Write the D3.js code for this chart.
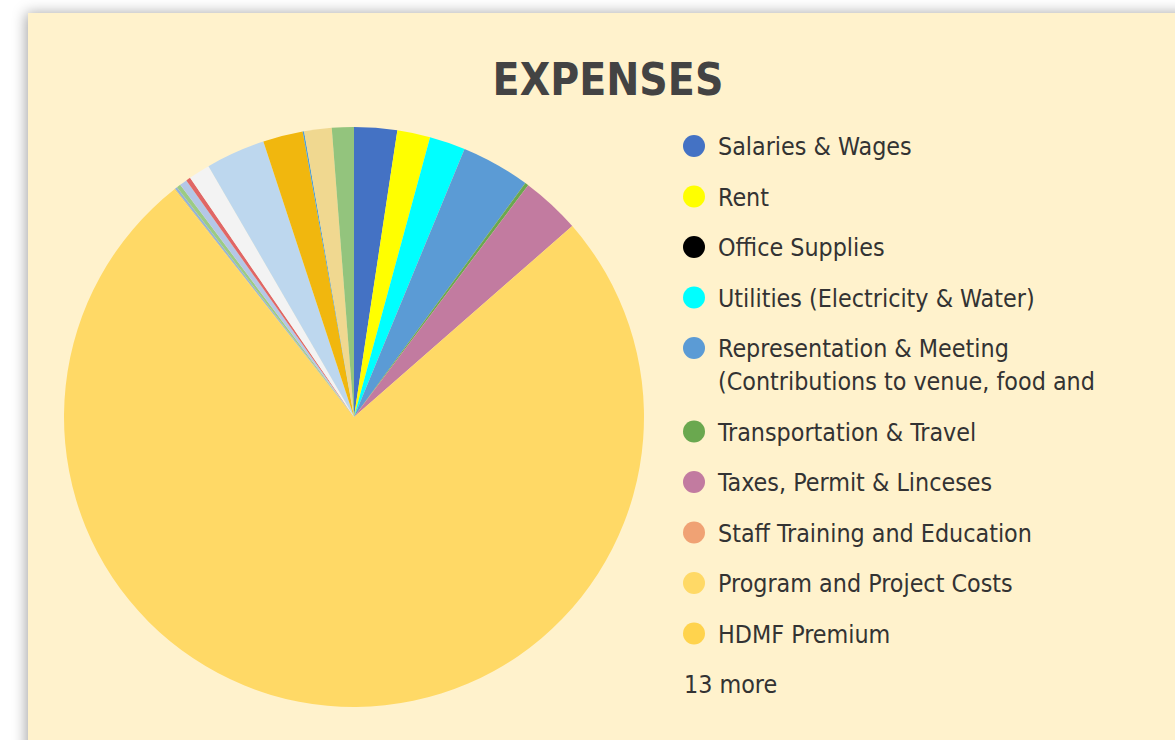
<!DOCTYPE html>
<html>
<head>
<meta charset="utf-8">
<script src="https://cdn.jsdelivr.net/npm/d3@7"></script>
<style>
  html, body { margin: 0; padding: 0; background: #ffffff; overflow: hidden; }
  svg { display: block; }
</style>
</head>
<body>
<svg id="chart" width="1175" height="740"></svg>
<script>
// ---- Data (in the chart's amount units) ----
const categories = [
  "Salaries & Wages",
  "Rent",
  "Office Supplies",
  "Utilities (Electricity & Water)",
  "Representation & Meeting (Contributions to venue, food and beverages)",
  "Transportation & Travel",
  "Taxes, Permit & Linceses",
  "Staff Training and Education",
  "Program and Project Costs",
  "HDMF Premium",
  "SSS Premium",
  "PhilHealth Premium",
  "Communication",
  "Repairs & Maintenance",
  "Bank Charges",
  "Professional Fees",
  "Insurance",
  "Depreciation",
  "Printing & Publication",
  "Miscellaneous",
  "Fuel & Oil",
  "Donations",
  "Equipment"
];
const values = [
  86, 66, 0, 72, 138, 7, 119, 0, 2727, 2,
  5, 8, 15, 9, 43, 119, 80, 3, 55, 44, 0, 0, 0
];
const colors = [
  "#4472c4", "#ffff00", "#000000", "#00ffff", "#5b9bd5", "#6aa84f", "#c27ba0",
  "#f0a274", "#ffd966", "#ffd34d",
  "#95b3d7", "#9bcb84", "#b4c7e7", "#e06666", "#f3f3f3", "#bdd7ee", "#f1b70e",
  "#4f9fd4", "#f0d890", "#93c47d", "#cccccc", "#dddddd", "#eeeeee"
];
const title = "EXPENSES";
const legendShown = 10;

// ---- Drawing ----
const svg = d3.select("#chart");
const defs = svg.append("defs");
const f = defs.append("filter").attr("id", "shadow")
  .attr("x", "-10%").attr("y", "-10%").attr("width", "120%").attr("height", "120%");
f.append("feDropShadow").attr("dx", -2).attr("dy", 0).attr("stdDeviation", 7)
  .attr("flood-color", "#000").attr("flood-opacity", 0.35);

svg.append("rect").attr("x", 28).attr("y", 13).attr("width", 1200).attr("height", 800)
  .attr("fill", "#fff2cc").attr("filter", "url(#shadow)");

svg.append("text")
  .attr("x", 608).attr("y", 95)
  .attr("text-anchor", "middle")
  .attr("font-family", "'DejaVu Sans Condensed', 'DejaVu Sans', sans-serif")
  .attr("font-stretch", "condensed")
  .attr("font-weight", "bold")
  .attr("font-size", 44)
  .attr("fill", "#434343")
  .text(title);

const cx = 354, cy = 417, r = 290;
const data = categories.map((c, i) => ({ name: c, value: values[i], color: colors[i] }));
const pie = d3.pie().sort(null).value(d => d.value);
const arc = d3.arc().innerRadius(0).outerRadius(r);
const g = svg.append("g").attr("transform", `translate(${cx},${cy})`);
g.selectAll("path").data(pie(data)).join("path")
  .attr("d", arc)
  .attr("fill", d => d.data.color);

// Legend
const lg = svg.append("g");
const fontFam = "'DejaVu Sans Condensed', 'DejaVu Sans', sans-serif";
const fs = 24.8;
let y = 146;
const step = 50.5, lineH = 33, maxW = 400;
data.slice(0, legendShown).forEach(d => {
  lg.append("circle").attr("cx", 694).attr("cy", y).attr("r", 11).attr("fill", d.color);
  const t = lg.append("text")
    .attr("x", 718).attr("y", y)
    .attr("font-family", fontFam).attr("font-stretch", "condensed")
    .attr("font-size", fs).attr("fill", "#333333");
  // wrap words into at most two lines
  const words = d.name.split(" ");
  const lines = [];
  let cur = [];
  const probe = t.append("tspan");
  words.forEach(w => {
    const test = cur.concat([w]).join(" ");
    probe.text(test);
    if (probe.node().getComputedTextLength() > maxW && cur.length) {
      lines.push(cur.join(" "));
      cur = [w];
    } else cur.push(w);
  });
  if (cur.length) lines.push(cur.join(" "));
  probe.remove();
  const shown = lines.slice(0, 2);
  shown.forEach((ln, i) => {
    t.append("tspan").attr("x", 718).attr("dy", i === 0 ? "0.37em" : lineH).text(ln);
  });
  y += step + (shown.length - 1) * lineH;
});
lg.append("text")
  .attr("x", 684).attr("y", y).attr("dy", "0.37em")
  .attr("font-family", fontFam).attr("font-stretch", "condensed")
  .attr("font-size", fs).attr("fill", "#333333")
  .text((categories.length - legendShown) + " more");
</script>
</body>
</html>
